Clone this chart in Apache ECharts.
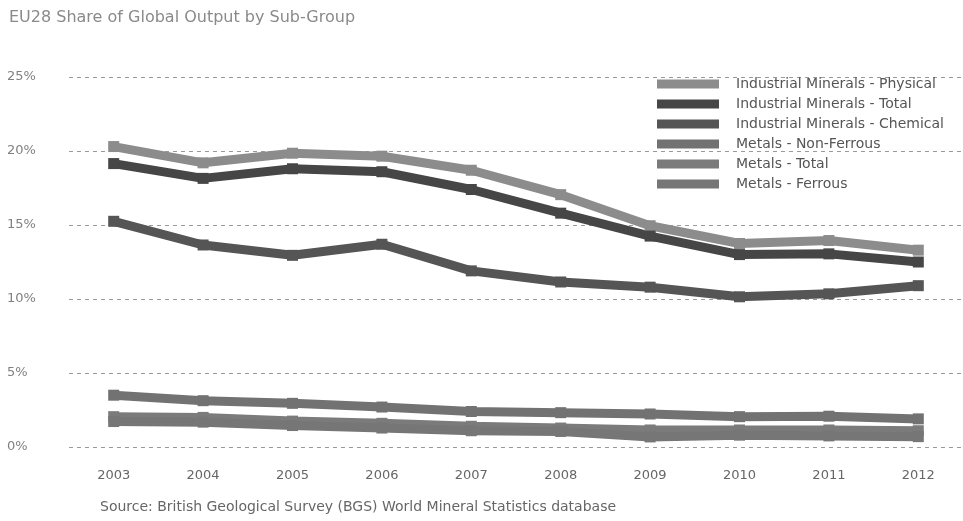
<!DOCTYPE html>
<html>
<head>
<meta charset="utf-8">
<script src="https://cdn.jsdelivr.net/npm/echarts@6/dist/echarts.min.js"></script>
<style>
  html, body { margin: 0; padding: 0; background: #fff; }
  #chart { width: 963px; height: 521px; }
</style>
</head>
<body>
<div id="chart"></div>
<script>
// EU28 share of global output (%) by sub-group, 2003-2012
const years = ['2003', '2004', '2005', '2006', '2007', '2008', '2009', '2010', '2011', '2012'];
const imPhysical = [20.3, 19.2, 19.85, 19.65, 18.7, 17.05, 14.95, 13.75, 13.95, 13.3];
const imTotal    = [19.15, 18.15, 18.8, 18.6, 17.4, 15.8, 14.25, 13.0, 13.05, 12.5];
const imChemical = [15.25, 13.65, 12.95, 13.7, 11.9, 11.15, 10.8, 10.15, 10.35, 10.9];
const metNonFerrous = [3.5, 3.13, 2.95, 2.7, 2.4, 2.32, 2.23, 2.05, 2.08, 1.9];
const metTotal      = [2.05, 2.0, 1.75, 1.6, 1.4, 1.28, 1.15, 1.15, 1.15, 1.1];
const metFerrous    = [1.72, 1.68, 1.45, 1.28, 1.1, 1.05, 0.68, 0.8, 0.75, 0.7];
const yTicks = [0, 5, 10, 15, 20, 25];

const FONT = '"DejaVu Sans", sans-serif';

const seriesDefs = [
  { name: 'Industrial Minerals - Physical', data: imPhysical, color: '#8c8c8c' },
  { name: 'Industrial Minerals - Total', data: imTotal, color: '#464646' },
  { name: 'Industrial Minerals - Chemical', data: imChemical, color: '#555555' },
  { name: 'Metals - Non-Ferrous', data: metNonFerrous, color: '#727272' },
  { name: 'Metals - Total', data: metTotal, color: '#7b7b7b' },
  { name: 'Metals - Ferrous', data: metFerrous, color: '#767676' }
];

const chart = echarts.init(document.getElementById('chart'), null, { renderer: 'canvas' });

chart.setOption({
  animation: false,
  backgroundColor: '#ffffff',
  textStyle: { fontFamily: FONT },
  title: {
    text: 'EU28 Share of Global Output by Sub-Group',
    left: 4,
    top: 5,
    textStyle: { fontFamily: FONT, fontSize: 16, fontWeight: 'normal', color: '#8a8a8a' }
  },
  legend: {
    orient: 'vertical',
    left: 652,
    top: 72,
    itemWidth: 62,
    itemHeight: 9,
    itemGap: 6,
    icon: 'rect',
    data: seriesDefs.map(s => s.name),
    textStyle: { fontFamily: FONT, fontSize: 14, color: '#555', lineHeight: 14, padding: [0, 0, 0, 12] }
  },
  grid: { left: 69, right: -23, top: 77, bottom: 74, containLabel: false },
  xAxis: {
    type: 'category',
    data: years,
    boundaryGap: true,
    axisLine: { show: false },
    axisTick: { show: false },
    axisLabel: { color: '#666', fontSize: 13, fontFamily: FONT, margin: 22 },
    splitLine: { show: false }
  },
  yAxis: {
    type: 'value',
    min: yTicks[0],
    max: yTicks[yTicks.length - 1],
    interval: 5,
    axisLine: { show: false },
    axisTick: { show: false },
    axisLabel: {
      color: '#808080', fontSize: 13, fontFamily: FONT, align: 'left', margin: 62,
      formatter: v => v + '%'
    },
    splitLine: { show: true, lineStyle: { color: '#9a9a9a', type: [4, 4], width: 1 } }
  },
  series: seriesDefs.map(s => ({
    name: s.name,
    type: 'line',
    data: s.data,
    color: s.color,
    symbol: 'rect',
    symbolSize: 11,
    showSymbol: true,
    lineStyle: { width: 9, color: s.color },
    itemStyle: { color: s.color },
    emphasis: { disabled: true }
  })),
  graphic: [{
    type: 'text',
    left: 100,
    top: 500,
    style: {
      text: 'Source: British Geological Survey (BGS) World Mineral Statistics database',
      font: '14px ' + FONT,
      fill: '#666'
    }
  }]
});
</script>
</body>
</html>
